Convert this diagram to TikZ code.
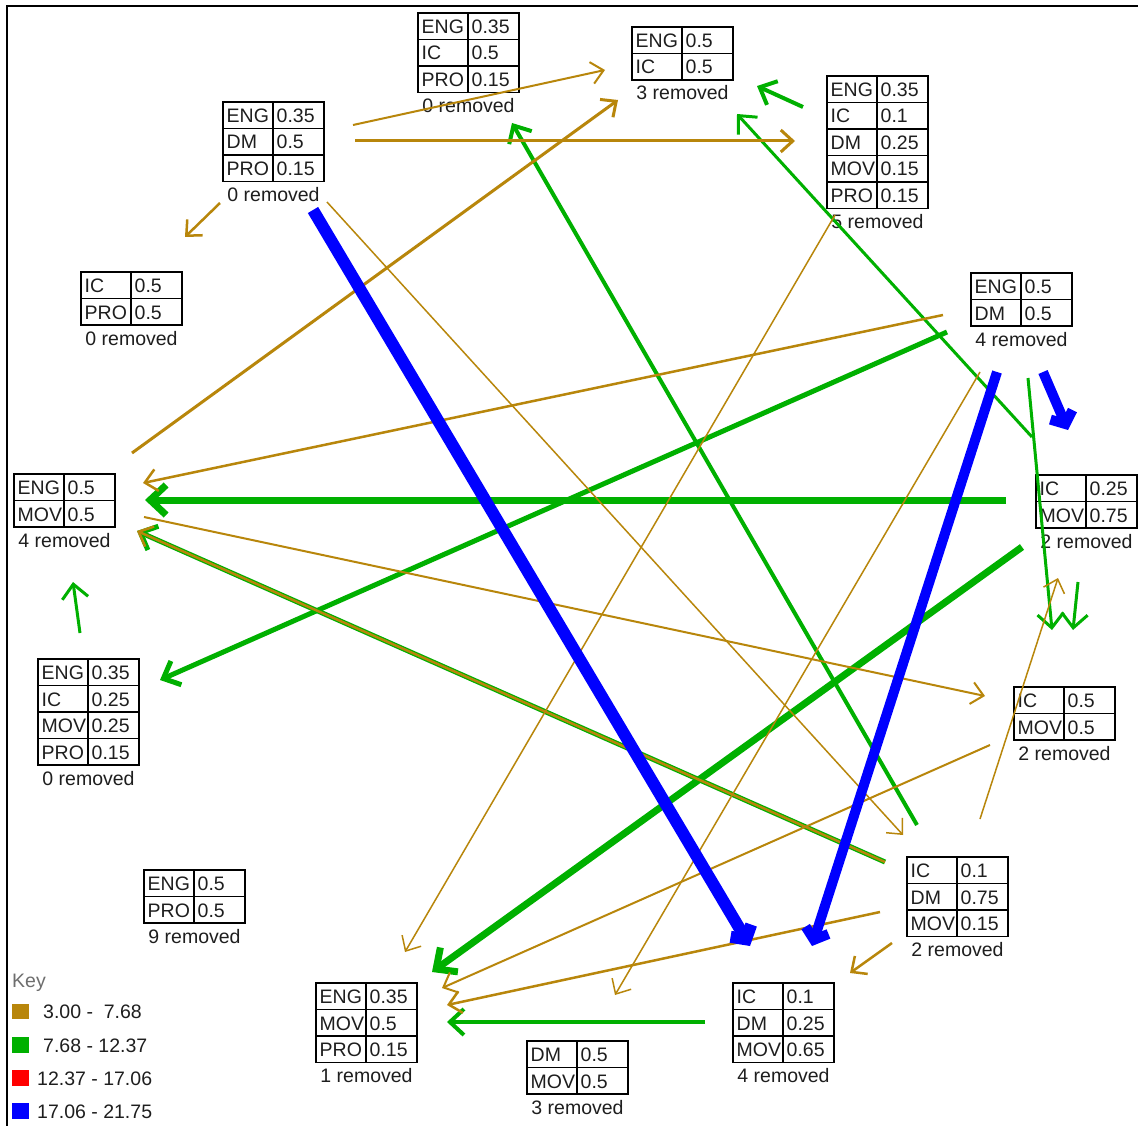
\documentclass[tikz,border=0pt]{standalone}
\usepackage{fontspec}
\setmainfont{Liberation Sans}
\usetikzlibrary{arrows.meta}
\definecolor{gold}{RGB}{184,134,11}
\definecolor{grn}{RGB}{0,176,0}
\definecolor{blu}{RGB}{0,0,255}
\definecolor{rd}{RGB}{255,0,0}
\definecolor{txt}{RGB}{30,30,30}
\definecolor{keygray}{RGB}{110,110,110}
\tikzset{
  cellline/.style={draw=black, line width=1.7pt},
  celltext/.style={anchor=base west, inner sep=0pt, text=txt, font=\fontsize{19.5}{22}\selectfont},
  remtext/.style={anchor=base, inner sep=0pt, text=txt, font=\fontsize{19.5}{22}\selectfont},
  brn/.style={draw=gold, -{Straight Barb[length=12pt,width=22pt]}},
  gr/.style={draw=grn, -{Straight Barb[length=14pt,width=26pt]}},
  bl/.style={draw=blu, -{Straight Barb[length=10pt,width=24pt]}},
}
\newcommand{\mktable}[5]{%
  \begin{scope}[shift={(#2,#3)}]
  \foreach \l/\v [count=\i] in {#4} {
    \draw[cellline] (0,{(\i-1)*26.5}) rectangle (50,{\i*26.5});
    \draw[cellline] (50,{(\i-1)*26.5}) rectangle (101,{\i*26.5});
    \node[celltext] (#1l\i) at (3.5,{(\i-1)*26.5+20.5}) {\l};
    \node[celltext] (#1v\i) at (53.5,{(\i-1)*26.5+20.5}) {\v};
    \xdef\nrows{\i}
  }
  \node[remtext] (#1r) at (50.5,{\nrows*26.5+20}) {#5};
  \end{scope}
}
\begin{document}
\begin{tikzpicture}[x=1pt,y=-1pt]
\useasboundingbox (0,0) rectangle (1138,1126);
\fill[white] (0,0) rectangle (1138,1126);
% frame
\draw[line width=2.5pt, line join=miter] (7,1126) -- (7,6) -- (1138,6);

% tables
\mktable{A}{223}{102}{ENG/0.35, DM/0.5, PRO/0.15}{0 removed}
\mktable{B}{418}{13}{ENG/0.35, IC/0.5, PRO/0.15}{0 removed}
\mktable{C}{632}{27}{ENG/0.5, IC/0.5}{3 removed}
\mktable{D}{827}{76}{ENG/0.35, IC/0.1, DM/0.25, MOV/0.15, PRO/0.15}{5 removed}
\mktable{E}{971}{273}{ENG/0.5, DM/0.5}{4 removed}
\mktable{F}{1036}{475}{IC/0.25, MOV/0.75}{2 removed}
\mktable{G}{1014}{687}{IC/0.5, MOV/0.5}{2 removed}
\mktable{H}{907}{857}{IC/0.1, DM/0.75, MOV/0.15}{2 removed}
\mktable{I}{733}{983}{IC/0.1, DM/0.25, MOV/0.65}{4 removed}
\mktable{J}{527}{1041}{DM/0.5, MOV/0.5}{3 removed}
\mktable{K}{316}{983}{ENG/0.35, MOV/0.5, PRO/0.15}{1 removed}
\mktable{L}{144}{870}{ENG/0.5, PRO/0.5}{9 removed}
\mktable{M}{38}{659}{ENG/0.35, IC/0.25, MOV/0.25, PRO/0.15}{0 removed}
\mktable{N}{14}{474}{ENG/0.5, MOV/0.5}{4 removed}
\mktable{O}{81}{272}{IC/0.5, PRO/0.5}{0 removed}

% connector end points
\coordinate (e1s) at (353,125);  \coordinate (e1t) at (605,70);
\coordinate (e2s) at (355,141);  \coordinate (e2t) at (795,141);
\coordinate (e3s) at (132,453);  \coordinate (e3t) at (618,100);
\coordinate (e4s) at (220,203);  \coordinate (e4t) at (185,237);
\coordinate (e5s) at (327,202);  \coordinate (e5t) at (903,835);
\coordinate (e6s) at (835,215);  \coordinate (e6t) at (405,952);
\coordinate (e7s) at (980,372);  \coordinate (e7t) at (615,995);
\coordinate (e8s) at (990,745);  \coordinate (e8t) at (442,988);
\coordinate (e9s) at (880,912);  \coordinate (e9t) at (447,1005);
\coordinate (e10s) at (980,819); \coordinate (e10t) at (1058,578);
\coordinate (e11s) at (892,943); \coordinate (e11t) at (850,973);
\coordinate (e12s) at (943,315); \coordinate (e12t) at (143,483);
\coordinate (e13s) at (144,517); \coordinate (e13t) at (985,696);
\coordinate (e14s) at (885,862); \coordinate (e14t) at (137,531);

\coordinate (g1s) at (1006,500); \coordinate (g1t) at (145,500);
\coordinate (g2s) at (947,332);  \coordinate (g2t) at (160,680);
\coordinate (g3s) at (1022,547); \coordinate (g3t) at (432,972);
\coordinate (g4s) at (705,1022); \coordinate (g4t) at (447,1022);
\coordinate (g5s) at (917,825);  \coordinate (g5t) at (512,123);
\coordinate (g6s) at (1032,437); \coordinate (g6t) at (737,114);
\coordinate (g7s) at (1028,378); \coordinate (g7t) at (1052,630);
\coordinate (g8s) at (1078,582); \coordinate (g8t) at (1073,630);
\coordinate (g9s) at (803,107);  \coordinate (g9t) at (757,86);
\coordinate (g10s) at (80,633);  \coordinate (g10t) at (73,582);

\coordinate (b1s) at (313,210);  \coordinate (b1t) at (750,946);
\coordinate (b2s) at (997,372);  \coordinate (b2t) at (812,946);
\coordinate (b3s) at (1043,372); \coordinate (b3t) at (1068,430);

% green connectors
\draw[gr, line width=5pt] (e14s) -- (e14t);
\draw[gr, line width=7pt, -{Straight Barb[length=16pt,width=30pt]}] (g1s) -- (g1t);
\draw[gr, line width=5pt] (g2s) -- (g2t);
\draw[gr, line width=7pt, -{Straight Barb[length=16pt,width=30pt]}] (g3s) -- (g3t);
\draw[gr, line width=4pt] (g4s) -- (g4t);
\draw[gr, line width=4pt] (g5s) -- (g5t);
\draw[gr, line width=3pt] (g6s) -- (g6t);
\draw[gr, line width=3pt] (g7s) -- (g7t);
\draw[gr, line width=3pt] (g8s) -- (g8t);
\draw[gr, line width=4pt] (g9s) -- (g9t);
\draw[gr, line width=3pt] (g10s) -- (g10t);

% brown connectors
\draw[brn, line width=2pt] (e1s) -- (e1t);
\draw[brn, line width=3pt] (e2s) -- (e2t);
\draw[brn, line width=3pt] (e3s) -- (e3t);
\draw[brn, line width=2.5pt] (e4s) -- (e4t);
\draw[brn, line width=1.5pt] (e5s) -- (e5t);
\draw[brn, line width=1.5pt] (e6s) -- (e6t);
\draw[brn, line width=1.5pt] (e7s) -- (e7t);
\draw[brn, line width=2pt] (e8s) -- (e8t);
\draw[brn, line width=2.5pt] (e9s) -- (e9t);
\draw[brn, line width=1.5pt] (e10s) -- (e10t);
\draw[brn, line width=2.5pt] (e11s) -- (e11t);
\draw[brn, line width=2.5pt] (e12s) -- (e12t);
\draw[brn, line width=2pt] (e13s) -- (e13t);
\draw[brn, line width=2.5pt] (e14s) -- (e14t);

% blue connectors
\draw[bl, line width=12pt] (b1s) -- (b1t);
\draw[bl, line width=10pt] (b2s) -- (b2t);
\draw[bl, line width=10pt] (b3s) -- (b3t);

% key
\node[celltext, text=keygray] (key) at (12,987) {Key};
\fill[gold] (12,1004) rectangle (29,1019);
\fill[grn] (12,1037) rectangle (29,1053);
\fill[rd] (12,1070) rectangle (29,1086);
\fill[blu] (12,1103) rectangle (29,1119);
\node[celltext] (k1) at (43,1018) {3.00 - \ 7.68};
\node[celltext] (k2) at (43,1052) {7.68 - 12.37};
\node[celltext] (k3) at (37,1085) {12.37 - 17.06};
\node[celltext] (k4) at (37,1118) {17.06 - 21.75};
\end{tikzpicture}
\end{document}
